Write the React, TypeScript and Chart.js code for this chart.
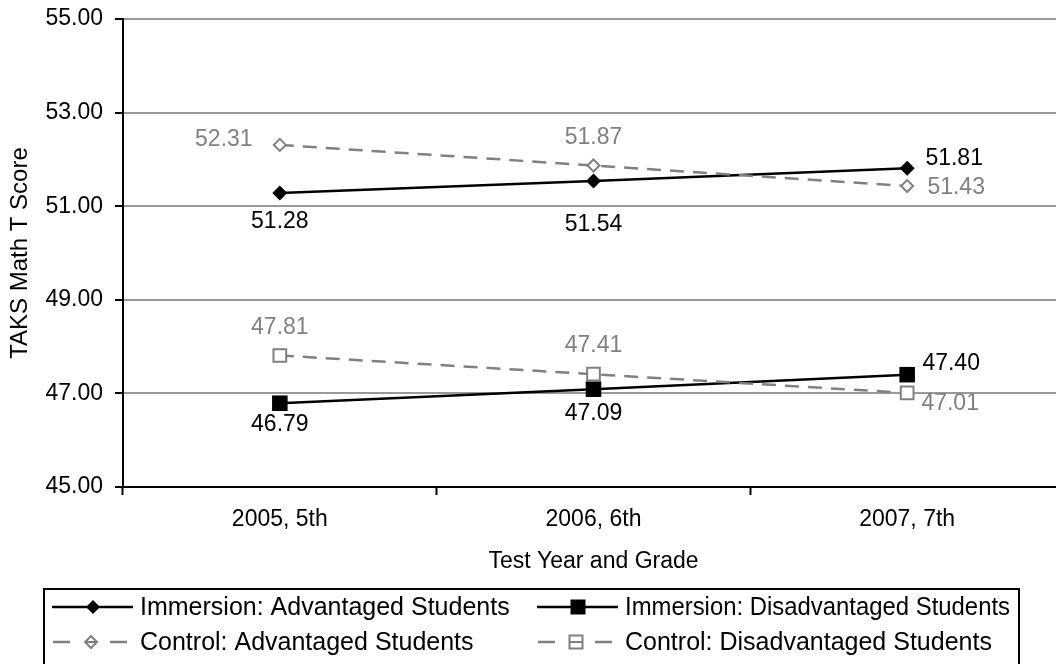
import React, { useEffect, useRef } from "react";
import { Chart, registerables } from "chart.js";

Chart.register(...registerables);

// ---- data ----
const categories = ["2005, 5th", "2006, 6th", "2007, 7th"];
const immersionAdvantaged = [51.28, 51.54, 51.81];
const immersionDisadvantaged = [46.79, 47.09, 47.4];
const controlAdvantaged = [52.31, 51.87, 51.43];
const controlDisadvantaged = [47.81, 47.41, 47.01];
const seriesNames = [
  "Immersion: Advantaged Students",
  "Immersion: Disadvantaged Students",
  "Control: Advantaged Students",
  "Control: Disadvantaged Students",
];
const yMin = 45;
const yMax = 55;
const yStep = 2;
const xTitle = "Test Year and Grade";
const yTitle = "TAKS Math T Score";

// ---- label placement (pixel offsets of label centre from point) ----
const offImmAdv = [[0, 29], [0, 44], [47, -10]];
const offImmDis = [[0, 21], [0, 24], [44, -11]];
const offCtlAdv = [[-56, -5], [0, -28], [49, 2]];
const offCtlDis = [[0, -28], [0, -29], [43, 11]];

const FONT = "'Liberation Sans', Arial, Helvetica, sans-serif";
const GRAY = "#808080";
const W = 1075;
const H = 680;

function drawMarker(ctx: CanvasRenderingContext2D, kind: string, x: number, y: number, filled: boolean, color: string, r: number, through = false) {
  ctx.save();
  ctx.beginPath();
  if (kind === "diamond") {
    ctx.moveTo(x, y - r);
    ctx.lineTo(x + r, y);
    ctx.lineTo(x, y + r);
    ctx.lineTo(x - r, y);
    ctx.closePath();
  } else {
    ctx.rect(x - r, y - r, 2 * r, 2 * r);
  }
  if (filled) {
    ctx.fillStyle = color;
    ctx.fill();
  } else {
    ctx.fillStyle = "#fff";
    ctx.fill();
    ctx.lineWidth = 2;
    ctx.strokeStyle = color;
    ctx.stroke();
    if (through) {
      ctx.beginPath();
      ctx.moveTo(x - r, y);
      ctx.lineTo(x + r, y);
      ctx.stroke();
    }
  }
  ctx.restore();
}

const pointLabelPlugin = {
  id: "pointLabels",
  afterDatasetsDraw(chart: any) {
    const ctx = chart.ctx as CanvasRenderingContext2D;
    ctx.save();
    ctx.font = `23px ${FONT}`;
    ctx.textAlign = "center";
    ctx.textBaseline = "middle";
    chart.data.datasets.forEach((ds: any, i: number) => {
      const meta = chart.getDatasetMeta(i);
      ctx.fillStyle = ds.labelColor;
      meta.data.forEach((pt: any, j: number) => {
        const [dx, dy] = ds.labelOffsets[j];
        ctx.fillText(Number(ds.data[j]).toFixed(2), pt.x + dx, pt.y + dy);
      });
    });
    ctx.restore();
  },
};

const legendPlugin = {
  id: "boxLegend",
  afterDraw(chart: any) {
    const ctx = chart.ctx as CanvasRenderingContext2D;
    ctx.save();
    ctx.strokeStyle = "#000";
    ctx.lineWidth = 2;
    ctx.strokeRect(44, 589, 975, 120);
    const items = [
      { name: seriesNames[0], x0: 52, y: 607, dashed: false, marker: "diamond", r: 7, color: "#000", maxW: 385 },
      { name: seriesNames[1], x0: 537, y: 607, dashed: false, marker: "square", r: 7.5, color: "#000", maxW: 385 },
      { name: seriesNames[2], x0: 52, y: 642, dashed: true, marker: "diamond", r: 6, color: GRAY, maxW: 385 },
      { name: seriesNames[3], x0: 537, y: 642, dashed: true, marker: "square", r: 6.5, color: GRAY, maxW: 385 },
    ];
    ctx.font = `25px ${FONT}`;
    ctx.textBaseline = "middle";
    ctx.textAlign = "left";
    items.forEach((it) => {
      ctx.strokeStyle = it.color;
      ctx.lineWidth = 2.5;
      ctx.beginPath();
      if (it.dashed) {
        ctx.moveTo(it.x0 + 1, it.y);
        ctx.lineTo(it.x0 + 18, it.y);
        ctx.moveTo(it.x0 + 58, it.y);
        ctx.lineTo(it.x0 + 75, it.y);
      } else {
        ctx.moveTo(it.x0, it.y);
        ctx.lineTo(it.x0 + 81, it.y);
      }
      ctx.stroke();
      const mx = it.dashed ? it.x0 + 39 : it.x0 + 41;
      drawMarker(ctx, it.marker, mx, it.y, !it.dashed, it.color, it.r, true);
      ctx.fillStyle = "#000";
      ctx.fillText(it.name, it.x0 + 88, it.y + 1, it.maxW);
    });
    ctx.restore();
  },
};

export default function App() {
  const ref = useRef<HTMLCanvasElement | null>(null);

  useEffect(() => {
    if (!ref.current) return;
    const chart = new Chart(ref.current, {
      type: "line",
      data: {
        labels: categories,
        datasets: [
          {
            label: seriesNames[0],
            data: immersionAdvantaged,
            borderColor: "#000",
            backgroundColor: "#000",
            borderWidth: 2.5,
            pointStyle: "rectRot",
            pointRadius: 7.5,
            pointBorderWidth: 0,
            pointBackgroundColor: "#000",
            order: 1,
            labelOffsets: offImmAdv,
            labelColor: "#000",
          } as any,
          {
            label: seriesNames[1],
            data: immersionDisadvantaged,
            borderColor: "#000",
            backgroundColor: "#000",
            borderWidth: 2.5,
            pointStyle: "rect",
            pointRadius: 11,
            pointBorderWidth: 0,
            pointBackgroundColor: "#000",
            order: 1,
            labelOffsets: offImmDis,
            labelColor: "#000",
          } as any,
          {
            label: seriesNames[2],
            data: controlAdvantaged,
            borderColor: GRAY,
            backgroundColor: "#fff",
            borderWidth: 2.5,
            borderDash: [14, 9],
            pointStyle: "rectRot",
            pointRadius: 6,
            pointBorderWidth: 2,
            pointBorderColor: GRAY,
            pointBackgroundColor: "#fff",
            order: 0,
            labelOffsets: offCtlAdv,
            labelColor: GRAY,
          } as any,
          {
            label: seriesNames[3],
            data: controlDisadvantaged,
            borderColor: GRAY,
            backgroundColor: "#fff",
            borderWidth: 2.5,
            borderDash: [14, 9],
            pointStyle: "rect",
            pointRadius: 9,
            pointBorderWidth: 2,
            pointBorderColor: GRAY,
            pointBackgroundColor: "#fff",
            order: 0,
            labelOffsets: offCtlDis,
            labelColor: GRAY,
          } as any,
        ],
      },
      options: {
        responsive: false,
        animation: false,
        devicePixelRatio: 1,
        layout: { padding: { left: 0, top: 19, right: 10, bottom: 103 } },
        plugins: {
          legend: { display: false },
          tooltip: { enabled: false },
        },
        elements: { line: { tension: 0 } },
        scales: {
          x: {
            type: "category",
            offset: true,
            grid: {
              offset: true,
              drawOnChartArea: false,
              drawTicks: true,
              tickLength: 8,
              tickColor: "#000",
              tickWidth: 2,
            },
            border: { color: "#000", width: 2 },
            ticks: {
              color: "#000",
              font: { family: FONT, size: 23 },
              padding: 11,
              maxRotation: 0,
              autoSkip: false,
            },
            title: {
              display: true,
              text: xTitle,
              color: "#000",
              font: { family: FONT, size: 23 },
              padding: { top: 0, bottom: 2 },
            },
            afterFit: (s: any) => {
              s.height = 90;
              s.paddingLeft = 0;
              s.paddingRight = 0;
            },
          },
          y: {
            min: yMin,
            max: yMax,
            grid: {
              color: "#999999",
              lineWidth: 2,
              tickLength: 8,
              tickColor: "#000",
              tickWidth: 2,
            },
            border: { color: "#000", width: 2 },
            ticks: {
              stepSize: yStep,
              color: "#000",
              font: { family: FONT, size: 23 },
              padding: 12,
              callback: (v: any) => Number(v).toFixed(2),
            },
            title: {
              display: true,
              text: yTitle,
              color: "#000",
              font: { family: FONT, size: 24 },
              padding: { top: 6, bottom: 0 },
            },
            afterFit: (s: any) => {
              s.width = 123;
              s.paddingTop = 0;
              s.paddingBottom = 0;
            },
          },
        },
      },
      plugins: [pointLabelPlugin, legendPlugin],
    } as any);
    return () => chart.destroy();
  }, []);

  return (
    <div
      style={{
        position: "fixed",
        left: 0,
        top: 0,
        width: 1056,
        height: 664,
        overflow: "hidden",
        background: "#fff",
      }}
    >
      <canvas ref={ref} width={W} height={H} style={{ display: "block", width: W, height: H }} />
    </div>
  );
}
